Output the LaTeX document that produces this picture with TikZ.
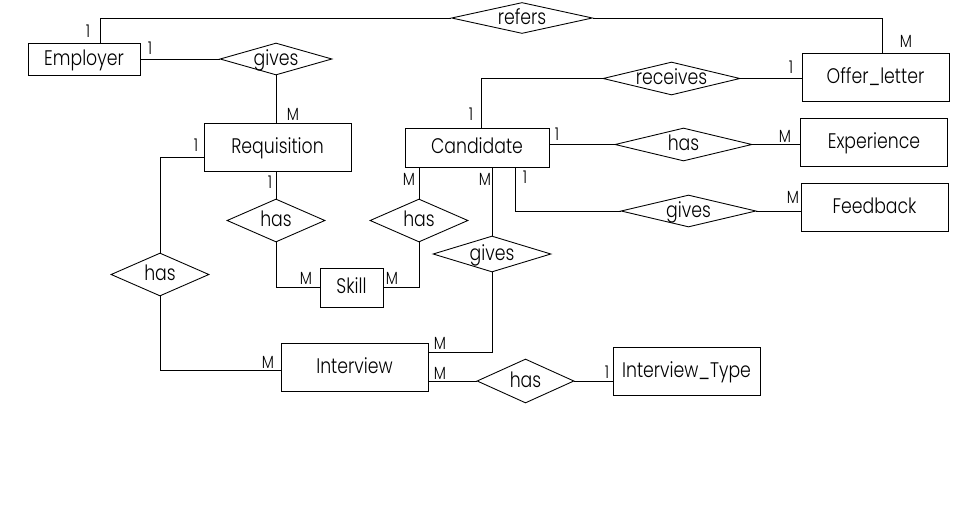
\documentclass[tikz,border=0pt]{standalone}
\usepackage{fontspec}
\setmainfont{Poppins Light}[FakeStretch=0.82]
\usetikzlibrary{shapes.geometric}

\tikzset{
  entity/.style={draw, rectangle, minimum width=2.94cm, minimum height=0.96cm,
    inner sep=0pt, text height=0.7em, text depth=0pt, font=\fontsize{12}{14}\selectfont},
  rel/.style={draw, diamond, aspect=4, inner sep=0pt, text height=0.7em, text depth=0pt,
    font=\fontsize{12}{14}\selectfont},
  card/.style={inner sep=0pt, font=\fontsize{10}{12}\selectfont}
}

\begin{document}
\begin{tikzpicture}[x=0.02cm, y=-0.02cm, line width=0.5pt]
  \useasboundingbox (0,0) rectangle (962,517);

  % --- Entities ---
  \node[entity, minimum width=2.24cm, minimum height=0.64cm] (emp) at (84,59) {Employer};
  \node[entity] (req) at (277.5,147) {Requisition};
  \node[entity, minimum width=2.88cm, minimum height=0.78cm] (cand) at (477,147.5) {Candidate};
  \node[entity] (offer) at (875.5,77) {Offer\_letter};
  \node[entity] (exp) at (874,142) {Experience};
  \node[entity] (feed) at (874.5,207) {Feedback};
  \node[entity, minimum width=1.26cm, minimum height=0.78cm] (skill) at (351.5,287.5) {Skill};
  \node[entity] (intv) at (354.5,367) {Interview};
  \node[entity] (itype) at (686.5,371) {Interview\_Type};

  % --- Relationships ---
  \node[rel, minimum width=2.82cm, minimum height=0.62cm] (refers) at (522,18) {refers};
  \node[rel, minimum width=2.24cm, minimum height=0.64cm] (gives) at (276,59) {gives};
  \node[rel, minimum width=2.74cm, minimum height=0.66cm] (receives) at (671.5,78.5) {receives};
  \node[rel, minimum width=2.74cm, minimum height=0.66cm] (hasexp) at (683.5,144.5) {has};
  \node[rel, minimum width=2.70cm, minimum height=0.64cm] (givfeed) at (688.5,211) {gives};
  \node[rel, minimum width=1.96cm, minimum height=0.86cm] (hasreq) at (276,220.5) {has};
  \node[rel, minimum width=1.96cm, minimum height=0.86cm] (hascand) at (419,220.5) {has};
  \node[rel, minimum width=1.96cm, minimum height=0.86cm] (hasint) at (160,274.5) {has};
  \node[rel, minimum width=2.36cm, minimum height=0.72cm] (givint) at (492,254) {gives};
  \node[rel, minimum width=1.94cm, minimum height=0.88cm] (hastype) at (525.5,381) {has};

  % --- Connectors ---
  \draw (emp.north -| 100,0) |- (refers.west);
  \draw (refers.east) -| (offer.north -| 882,0);
  \draw (emp.east) -- (gives.west);
  \draw (gives.south) -- (gives.south |- req.north);
  \draw (req.west |- 0,157) -| (hasint.north);
  \draw (hasint.south) |- (intv.west |- 0,370);
  \draw (hasreq.north |- req.south) -- (hasreq.north);
  \draw (hasreq.south) |- (skill.west);
  \draw (skill.east) -| (hascand.south);
  \draw (hascand.north |- cand.south) -- (hascand.north);
  \draw (givint.north |- cand.south) -- (givint.north);
  \draw (givint.south) |- (intv.east |- 0,352);
  \draw (intv.east |- 0,381) -- (hastype.west);
  \draw (hastype.east) -- (itype.west |- hastype.east);
  \draw (cand.north -| 481,0) |- (receives.west);
  \draw (receives.east) -- (offer.west |- receives.east);
  \draw (cand.east |- hasexp.west) -- (hasexp.west);
  \draw (hasexp.east) -- (exp.west |- hasexp.east);
  \draw (cand.south -| 515,0) |- (givfeed.west);
  \draw (givfeed.east) -- (feed.west |- givfeed.east);

  % --- Cardinalities ---
  \node[card] (c1) at (88,31) {1};
  \node[card] (c2) at (150,48) {1};
  \node[card] (c3) at (293,114) {M};
  \node[card] (c4) at (196,145) {1};
  \node[card] (c5) at (270,182) {1};
  \node[card] (c6) at (409,179) {M};
  \node[card] (c7) at (485,179) {M};
  \node[card] (c8) at (471,114) {1};
  \node[card] (c9) at (906,41) {M};
  \node[card] (c10) at (791,67) {1};
  \node[card] (c11) at (557,134) {1};
  \node[card] (c12) at (785,136) {M};
  \node[card] (c13) at (525,177) {1};
  \node[card] (c14) at (793,197) {M};
  \node[card] (c15) at (306,278) {M};
  \node[card] (c16) at (392,278) {M};
  \node[card] (c17) at (268,362) {M};
  \node[card] (c18) at (440,343) {M};
  \node[card] (c19) at (440,373) {M};
  \node[card] (c20) at (607,372) {1};
\end{tikzpicture}
\end{document}
